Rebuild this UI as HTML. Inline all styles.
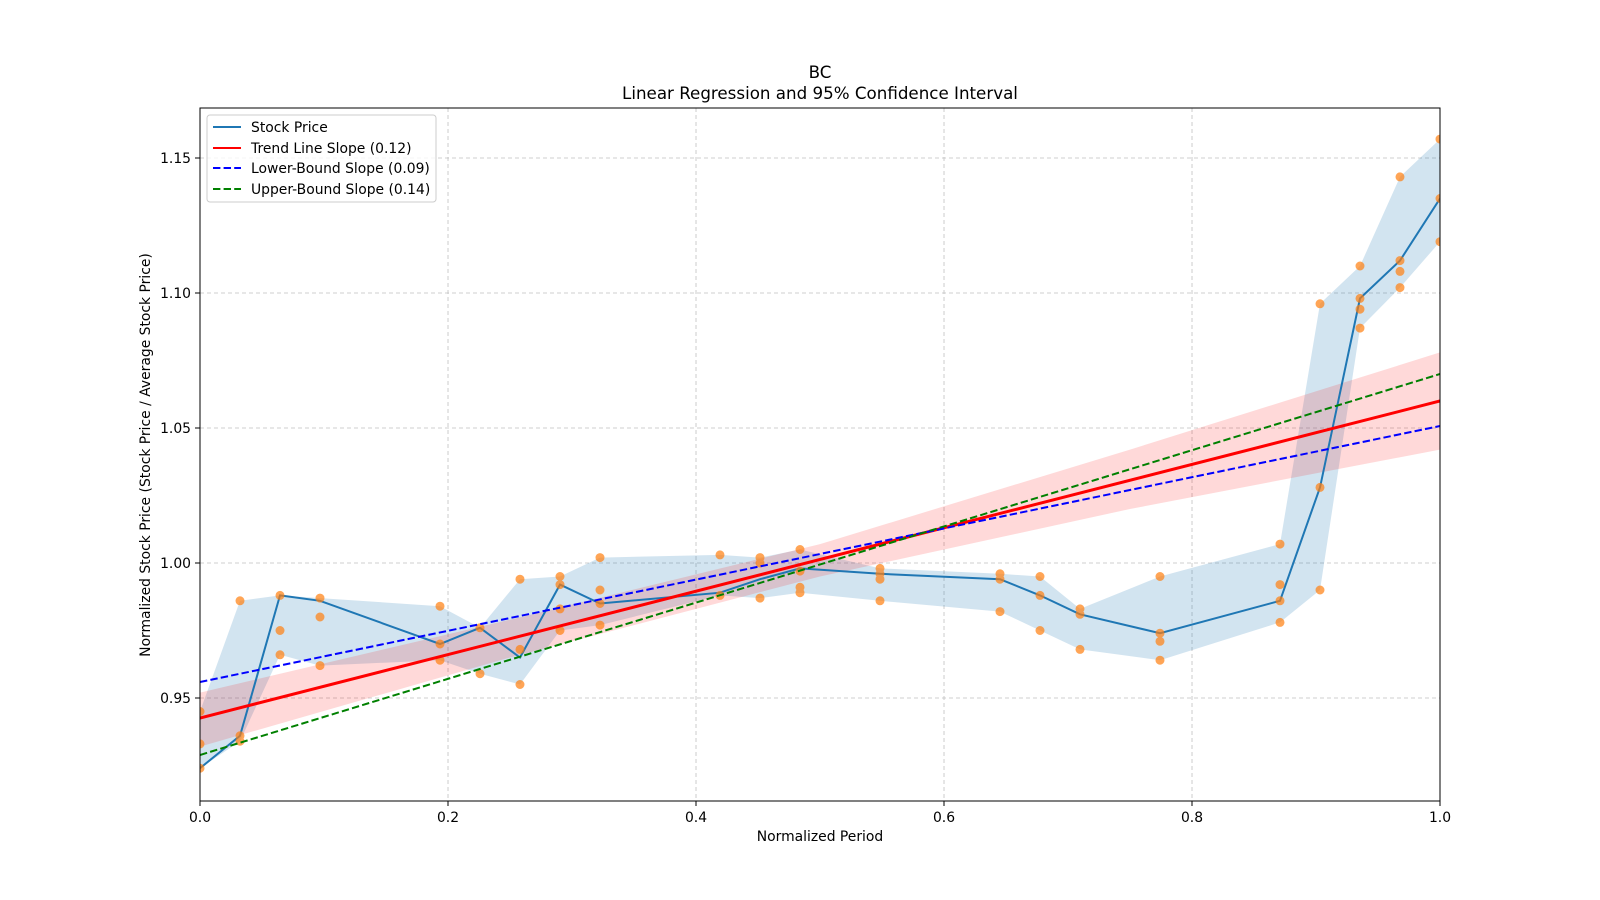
<!DOCTYPE html>
<html><head><meta charset="utf-8"><style>
body{margin:0;background:#fff}
svg{display:block;font-family:"DejaVu Sans","Liberation Sans",sans-serif}
</style></head><body>
<svg width="1600" height="900" viewBox="0 0 1600 900" xmlns="http://www.w3.org/2000/svg">
<rect width="1600" height="900" fill="#fff"/>
<g stroke="#b0b0b0" stroke-width="0.8" stroke-dasharray="4,3" opacity="0.8">
<line x1="448" y1="108" x2="448" y2="801"/><line x1="696" y1="108" x2="696" y2="801"/>
<line x1="944" y1="108" x2="944" y2="801"/><line x1="1192" y1="108" x2="1192" y2="801"/>
<line x1="200" y1="158" x2="1440" y2="158"/><line x1="200" y1="293" x2="1440" y2="293"/>
<line x1="200" y1="428" x2="1440" y2="428"/><line x1="200" y1="563" x2="1440" y2="563"/>
<line x1="200" y1="698" x2="1440" y2="698"/>
</g>
<defs><clipPath id="c"><rect x="200" y="108" width="1240" height="693"/></clipPath></defs>
<g clip-path="url(#c)">
<g transform="translate(200,563) scale(1240,-2700) translate(0,-1)">
<polygon fill="#1f77b4" fill-opacity="0.2" points="0,0.945 0.03226,0.986 0.06452,0.988 0.09677,0.987 0.19355,0.984 0.22581,0.976 0.25806,0.994 0.29032,0.995 0.32258,1.002 0.41935,1.003 0.45161,1.002 0.48387,1.005 0.54839,0.998 0.64516,0.996 0.67742,0.995 0.70968,0.983 0.77419,0.995 0.87097,1.007 0.90323,1.096 0.93548,1.110 0.96774,1.143 1,1.157 1,1.119 0.96774,1.102 0.93548,1.087 0.90323,0.990 0.87097,0.978 0.77419,0.964 0.70968,0.968 0.67742,0.975 0.64516,0.982 0.54839,0.986 0.48387,0.989 0.45161,0.987 0.41935,0.988 0.32258,0.977 0.29032,0.975 0.25806,0.955 0.22581,0.959 0.19355,0.964 0.09677,0.962 0.06452,0.966 0.03226,0.934 0,0.924"/>
<polygon fill="#ff0000" fill-opacity="0.15" points="0,0.952 0.25,0.979 0.5,1.007 0.75,1.042 1,1.078 1,1.042 0.75,1.020 0.5,0.995 0.25,0.965 0,0.932"/>
<polyline fill="none" stroke="#1f77b4" stroke-width="2" vector-effect="non-scaling-stroke" points="0,0.924 0.03226,0.936 0.06452,0.988 0.09677,0.986 0.19355,0.970 0.22581,0.976 0.25806,0.965 0.29032,0.992 0.32258,0.985 0.41935,0.989 0.45161,0.994 0.48387,0.998 0.54839,0.996 0.64516,0.994 0.67742,0.988 0.70968,0.981 0.77419,0.974 0.87097,0.986 0.90323,1.028 0.93548,1.098 0.96774,1.112 1,1.135"/>
<path fill="none" stroke="#ff7f0e" stroke-opacity="0.7" stroke-width="9" stroke-linecap="round" vector-effect="non-scaling-stroke" d="M0,0.945h0M0,0.933h0M0,0.924h0M0.03226,0.986h0M0.03226,0.936h0M0.03226,0.934h0M0.06452,0.988h0M0.06452,0.975h0M0.06452,0.966h0M0.09677,0.987h0M0.09677,0.980h0M0.09677,0.962h0M0.19355,0.984h0M0.19355,0.970h0M0.19355,0.964h0M0.22581,0.976h0M0.22581,0.959h0M0.25806,0.994h0M0.25806,0.968h0M0.25806,0.955h0M0.29032,0.995h0M0.29032,0.992h0M0.29032,0.983h0M0.29032,0.975h0M0.32258,1.002h0M0.32258,0.990h0M0.32258,0.985h0M0.32258,0.977h0M0.41935,1.003h0M0.41935,0.988h0M0.45161,1.002h0M0.45161,1.000h0M0.45161,0.987h0M0.48387,1.005h0M0.48387,0.991h0M0.48387,0.989h0M0.48387,0.997h0M0.54839,0.998h0M0.54839,0.996h0M0.54839,0.994h0M0.54839,0.986h0M0.64516,0.996h0M0.64516,0.994h0M0.64516,0.982h0M0.67742,0.995h0M0.67742,0.988h0M0.67742,0.975h0M0.70968,0.983h0M0.70968,0.981h0M0.70968,0.968h0M0.77419,0.995h0M0.77419,0.974h0M0.77419,0.971h0M0.77419,0.964h0M0.87097,1.007h0M0.87097,0.992h0M0.87097,0.986h0M0.87097,0.978h0M0.90323,1.096h0M0.90323,1.028h0M0.90323,0.990h0M0.93548,1.110h0M0.93548,1.098h0M0.93548,1.094h0M0.93548,1.087h0M0.96774,1.143h0M0.96774,1.112h0M0.96774,1.108h0M0.96774,1.102h0M1,1.157h0M1,1.135h0M1,1.119h0"/>
</g>
<line x1="200" y1="718" x2="1440" y2="401" stroke="#ff0000" stroke-width="3"/>
<line x1="200" y1="682" x2="1440" y2="426" stroke="#0000ff" stroke-width="2" stroke-dasharray="7.4,3.2"/>
<line x1="200" y1="755" x2="1440" y2="374" stroke="#008000" stroke-width="2" stroke-dasharray="7.4,3.2"/>
</g>
<rect x="200" y="108" width="1240" height="693" fill="none" stroke="#000" stroke-width="1"/>
<g stroke="#000" stroke-width="1">
<line x1="200" y1="801" x2="200" y2="806"/><line x1="448" y1="801" x2="448" y2="806"/><line x1="696" y1="801" x2="696" y2="806"/><line x1="944" y1="801" x2="944" y2="806"/><line x1="1192" y1="801" x2="1192" y2="806"/><line x1="1440" y1="801" x2="1440" y2="806"/>
<line x1="195" y1="158" x2="200" y2="158"/><line x1="195" y1="293" x2="200" y2="293"/><line x1="195" y1="428" x2="200" y2="428"/><line x1="195" y1="563" x2="200" y2="563"/><line x1="195" y1="698" x2="200" y2="698"/>
</g>
<g font-size="13.9" fill="#000" text-anchor="middle">
<text x="200" y="822">0.0</text><text x="448" y="822">0.2</text><text x="696" y="822">0.4</text><text x="944" y="822">0.6</text><text x="1192" y="822">0.8</text><text x="1440" y="822">1.0</text>
<text x="820" y="841">Normalized Period</text>
<text x="820" y="78" font-size="16.7">BC</text>
<text x="820" y="99" font-size="16.7">Linear Regression and 95% Confidence Interval</text>
<text transform="translate(150,455) rotate(-90)">Normalized Stock Price (Stock Price / Average Stock Price)</text>
</g>
<g font-size="13.9" fill="#000" text-anchor="end">
<text x="191" y="163">1.15</text><text x="191" y="298">1.10</text><text x="191" y="433">1.05</text><text x="191" y="568">1.00</text><text x="191" y="703">0.95</text>
</g>
<rect x="207" y="115" width="229" height="87" rx="3" fill="#fff" fill-opacity="0.8" stroke="#ccc"/>
<line x1="213" y1="127" x2="241" y2="127" stroke="#1f77b4" stroke-width="2"/>
<line x1="213" y1="148" x2="241" y2="148" stroke="#ff0000" stroke-width="2"/>
<line x1="213" y1="168" x2="241" y2="168" stroke="#0000ff" stroke-width="2" stroke-dasharray="7.4,3.2"/>
<line x1="213" y1="189" x2="241" y2="189" stroke="#008000" stroke-width="2" stroke-dasharray="7.4,3.2"/>
<g font-size="13.9" fill="#000">
<text x="251" y="132">Stock Price</text>
<text x="251" y="153">Trend Line Slope (0.12)</text>
<text x="251" y="173">Lower-Bound Slope (0.09)</text>
<text x="251" y="194">Upper-Bound Slope (0.14)</text>
</g>
</svg>
</body></html>
